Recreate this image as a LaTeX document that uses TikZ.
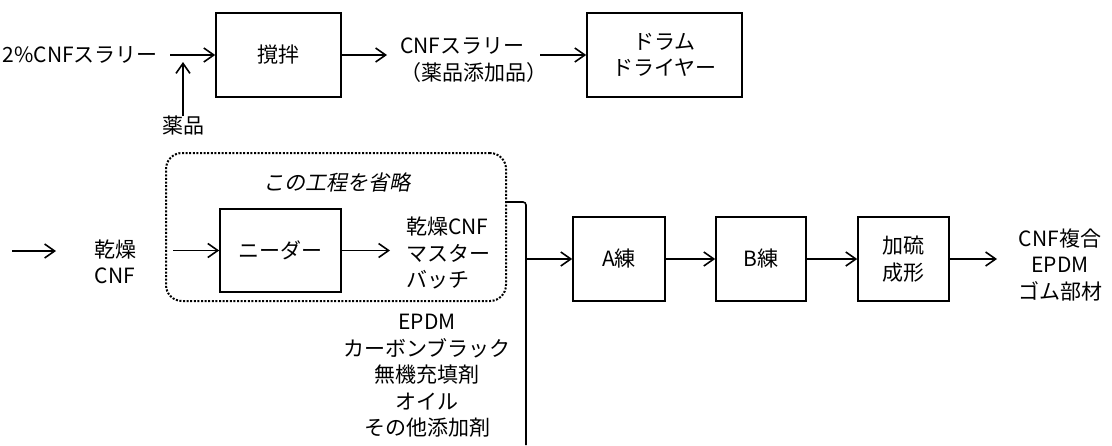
\documentclass[tikz,border=0pt]{standalone}
\usepackage{fontspec}
\setmainfont{Noto Sans CJK JP}
\newfontfamily\slantfont[FakeSlant=0.2]{Noto Sans CJK JP}
\usetikzlibrary{arrows.meta}
\newcommand\myfs{\fontsize{21}{26.5}\selectfont}
\tikzset{
  proc/.style={draw, line width=1.6pt, minimum width=#1, minimum height=84pt, inner sep=0pt, align=center},
  lbl/.style={inner sep=0pt, align=center},
  conn/.style={line width=1.6pt},
  arr/.style={line width=1.6pt, -{Straight Barb[length=10pt,width=14pt,line width=1.6pt]}},
  dotbox/.style={draw, line width=2pt, dash pattern=on 2pt off 1.6pt, rounded corners=16pt, inner sep=0pt}
}
\begin{document}
\begin{tikzpicture}[x=1pt,y=-1pt,font=\myfs]
\useasboundingbox (0,0) rectangle (1112,445);
% top row
\node[lbl, anchor=east] (slurry) at (158,55) {2\%CNFスラリー};
\node[proc=125pt] (mix) at (278.5,55) {撹拌};
\node[lbl] (yaku) at (183,126) {薬品};
\coordinate (join) at (183,62);
\draw[arr] ([xshift=12pt]slurry.east) -- (mix.west);
\draw[arr] (yaku.north) -- (join);
\node[lbl, anchor=west, align=left] (slurry2) at (400,60) {CNFスラリー\\（薬品添加品）};
\draw[arr, shorten >=13pt] (mix.east) -- (mix.east -| slurry2.west);
\node[proc=155pt] (drum) at (664.5,55) {ドラム\\ドライヤー};
\coordinate (s2out) at (540,55);
\draw[arr] (s2out) -- (drum.west);
% bottom row
\coordinate (startL) at (12,251);
\coordinate (endL) at (56,251);
\draw[arr] (startL) -- (endL);
\node[lbl] (dry) at (115,262) {乾燥\\CNF};
\node[dotbox, minimum width=340pt, minimum height=148pt] (omit) at (336,227) {};
\node[lbl, font=\myfs\slantfont] (omitlbl) at (337,182) {この工程を省略};
\coordinate (kin) at (173,250.5);
\node[proc=121pt, minimum height=83pt] (knead) at (280.5,250.5) {ニーダー};
\draw[arr] (kin) -- (knead.west);
\node[lbl, anchor=west, align=left] (mb) at (406,253) {乾燥CNF\\マスター\\バッチ};
\draw[arr, shorten >=16pt] (knead.east) -- (knead.east -| mb.west);
\coordinate (brktop) at (526,202);
\coordinate (brkbot) at (526,445);
\draw[conn, rounded corners=3pt] (omit.east |- brktop) -- (brktop) -- (brkbot);
\node[proc=92pt] (akn) at (619,259) {A練};
\node[proc=90pt] (bkn) at (761,259) {B練};
\node[proc=91pt] (vul) at (903.5,259) {加硫\\成形};
\draw[arr] (akn.west -| brktop) -- (akn.west);
\draw[arr] (akn) -- (bkn);
\draw[arr] (bkn) -- (vul);
\coordinate (outin) at (997,259);
\draw[arr] (vul.east) -- (outin);
\node[lbl] (prod) at (1060,265) {CNF複合\\EPDM\\ゴム部材};
\node[lbl] (ingr) at (427,376) {EPDM\\カーボンブラック\\無機充填剤\\オイル\\その他添加剤};
\end{tikzpicture}
\end{document}
